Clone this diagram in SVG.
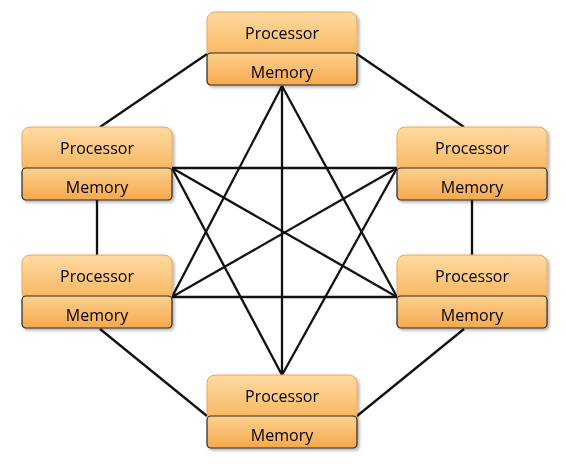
<svg xmlns="http://www.w3.org/2000/svg" width="566" height="475" viewBox="0 0 566 475">
<defs>
<linearGradient id="gp" x1="0" y1="0" x2="0" y2="1">
<stop offset="0" stop-color="#fddaa2"/>
<stop offset="1" stop-color="#f9b55c"/>
</linearGradient>
<linearGradient id="gm" x1="0" y1="0" x2="0" y2="1">
<stop offset="0" stop-color="#fcd08c"/>
<stop offset="1" stop-color="#f6a94e"/>
</linearGradient>
<filter id="sh" x="-10%" y="-10%" width="125%" height="130%">
<feDropShadow dx="2" dy="2" stdDeviation="1.5" flood-color="#000" flood-opacity="0.3"/>
</filter>
</defs>
<style>
.p{fill:url(#gp);stroke:#e9a95a;stroke-width:1}
.m{fill:url(#gm);stroke:#2a2a2a;stroke-width:1.2}
.t{font-family:"Open Sans","Liberation Sans",sans-serif;font-size:16px;fill:#000;text-anchor:middle}
.c line{stroke:#111;stroke-width:2.3;fill:none}
</style>
<rect width="566" height="475" fill="#fff"/>
<g class="c" id="connectors">
<line x1="207" y1="54" x2="100" y2="127"/>
<line x1="357" y1="54" x2="464" y2="127"/>
<line x1="97" y1="200" x2="97" y2="255"/>
<line x1="472" y1="200" x2="472" y2="255"/>
<line x1="100" y1="329" x2="207" y2="416"/>
<line x1="464" y1="329" x2="357" y2="416"/>
<line x1="282" y1="86" x2="282" y2="375"/>
<line x1="282" y1="86" x2="172" y2="297"/>
<line x1="282" y1="86" x2="397" y2="297"/>
<line x1="282" y1="375" x2="172" y2="168"/>
<line x1="282" y1="375" x2="397" y2="168"/>
<line x1="172" y1="168" x2="397" y2="168"/>
<line x1="172" y1="297" x2="397" y2="297"/>
<line x1="172" y1="168" x2="397" y2="297"/>
<line x1="172" y1="297" x2="397" y2="168"/>
</g>
<g id="node-top" transform="translate(207,12)" filter="url(#sh)">
<rect class="p" x="0" y="0" width="150" height="46" rx="8"/>
<rect class="m" x="0" y="41" width="150" height="32" rx="4"/>
<text class="t" x="75" y="26.5">Processor</text>
<text class="t" x="75" y="65.5">Memory</text>
</g>
<g id="node-left-upper" transform="translate(22,127)" filter="url(#sh)">
<rect class="p" x="0" y="0" width="150" height="46" rx="8"/>
<rect class="m" x="0" y="41" width="150" height="32" rx="4"/>
<text class="t" x="75" y="26.5">Processor</text>
<text class="t" x="75" y="65.5">Memory</text>
</g>
<g id="node-right-upper" transform="translate(397,127)" filter="url(#sh)">
<rect class="p" x="0" y="0" width="150" height="46" rx="8"/>
<rect class="m" x="0" y="41" width="150" height="32" rx="4"/>
<text class="t" x="75" y="26.5">Processor</text>
<text class="t" x="75" y="65.5">Memory</text>
</g>
<g id="node-left-lower" transform="translate(22,255)" filter="url(#sh)">
<rect class="p" x="0" y="0" width="150" height="46" rx="8"/>
<rect class="m" x="0" y="41" width="150" height="32" rx="4"/>
<text class="t" x="75" y="26.5">Processor</text>
<text class="t" x="75" y="65.5">Memory</text>
</g>
<g id="node-right-lower" transform="translate(397,255)" filter="url(#sh)">
<rect class="p" x="0" y="0" width="150" height="46" rx="8"/>
<rect class="m" x="0" y="41" width="150" height="32" rx="4"/>
<text class="t" x="75" y="26.5">Processor</text>
<text class="t" x="75" y="65.5">Memory</text>
</g>
<g id="node-bottom" transform="translate(207,375)" filter="url(#sh)">
<rect class="p" x="0" y="0" width="150" height="46" rx="8"/>
<rect class="m" x="0" y="41" width="150" height="32" rx="4"/>
<text class="t" x="75" y="26.5">Processor</text>
<text class="t" x="75" y="65.5">Memory</text>
</g>
</svg>
